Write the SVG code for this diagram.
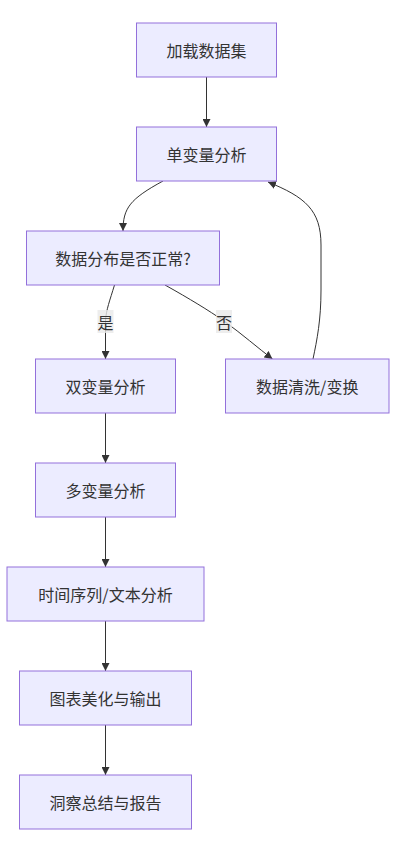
<svg xmlns="http://www.w3.org/2000/svg" width="406" height="845" viewBox="0 0 406 845">
<style>
.node rect{fill:#ECECFF;stroke:#9370DB;stroke-width:1}
.node text,.lbl text{font-family:"Noto Sans CJK SC","Liberation Sans",sans-serif;font-size:16px;fill:#333;text-anchor:middle;dominant-baseline:central}
.edge{fill:none;stroke:#333;stroke-width:1}
.lbl rect{fill:#E8E8E8;fill-opacity:0.8}
</style>
<defs>
<marker id="arr" viewBox="0 0 10 10" refX="10" refY="5" markerWidth="8" markerHeight="8" markerUnits="userSpaceOnUse" orient="auto">
<path d="M0,0 L10,5 L0,10 z" fill="#333"/>
</marker>
</defs>
<rect width="406" height="845" fill="#fff"/>
<g id="connectors">
<path class="edge" d="M206.5,77 L206.5,127" marker-end="url(#arr)"/>
<path class="edge" d="M163,181 C130,199 123,208 123,231" marker-end="url(#arr)"/>
<path class="edge" d="M114.5,285 C110,300 106,310 105.5,321 L105.5,359" marker-end="url(#arr)"/>
<path class="edge" d="M165,285 C190,299 208,310 224,321 C242,334 258,348 272.5,359" marker-end="url(#arr)"/>
<path class="edge" d="M313,359 C317,340 321,320 321,290 L321,245 C321,210 305,197 268,182" marker-end="url(#arr)"/>
<path class="edge" d="M105.5,413 L105.5,463" marker-end="url(#arr)"/>
<path class="edge" d="M105.5,517 L105.5,567" marker-end="url(#arr)"/>
<path class="edge" d="M105.5,621 L105.5,671" marker-end="url(#arr)"/>
<path class="edge" d="M105.5,725 L105.5,775" marker-end="url(#arr)"/>
<g class="lbl" id="label-yes"><rect x="97.5" y="310" width="16" height="23"/><text x="105.5" y="321.5">是</text></g>
<g class="lbl" id="label-no"><rect x="216" y="310" width="16" height="23"/><text x="224" y="321.5">否</text></g>
</g>
<g class="node" id="load"><rect x="136.5" y="23" width="140" height="54"/><text x="206.5" y="50">加载数据集</text></g>
<g class="node" id="univariate"><rect x="136.5" y="127" width="140" height="54"/><text x="206.5" y="154">单变量分析</text></g>
<g class="node" id="check"><rect x="26.5" y="231" width="193" height="54"/><text x="123" y="258">数据分布是否正常?</text></g>
<g class="node" id="bivariate"><rect x="35.5" y="359" width="140" height="54"/><text x="105.5" y="386">双变量分析</text></g>
<g class="node" id="clean"><rect x="225.5" y="359" width="163.5" height="54"/><text x="307.25" y="386">数据清洗/变换</text></g>
<g class="node" id="multivariate"><rect x="35.5" y="463" width="140" height="54"/><text x="105.5" y="490">多变量分析</text></g>
<g class="node" id="timeseries"><rect x="7" y="567" width="197" height="54"/><text x="105.5" y="594">时间序列/文本分析</text></g>
<g class="node" id="charts"><rect x="19.5" y="671" width="172" height="54"/><text x="105.5" y="698">图表美化与输出</text></g>
<g class="node" id="report"><rect x="19.5" y="775" width="172" height="54"/><text x="105.5" y="802">洞察总结与报告</text></g>
</svg>
